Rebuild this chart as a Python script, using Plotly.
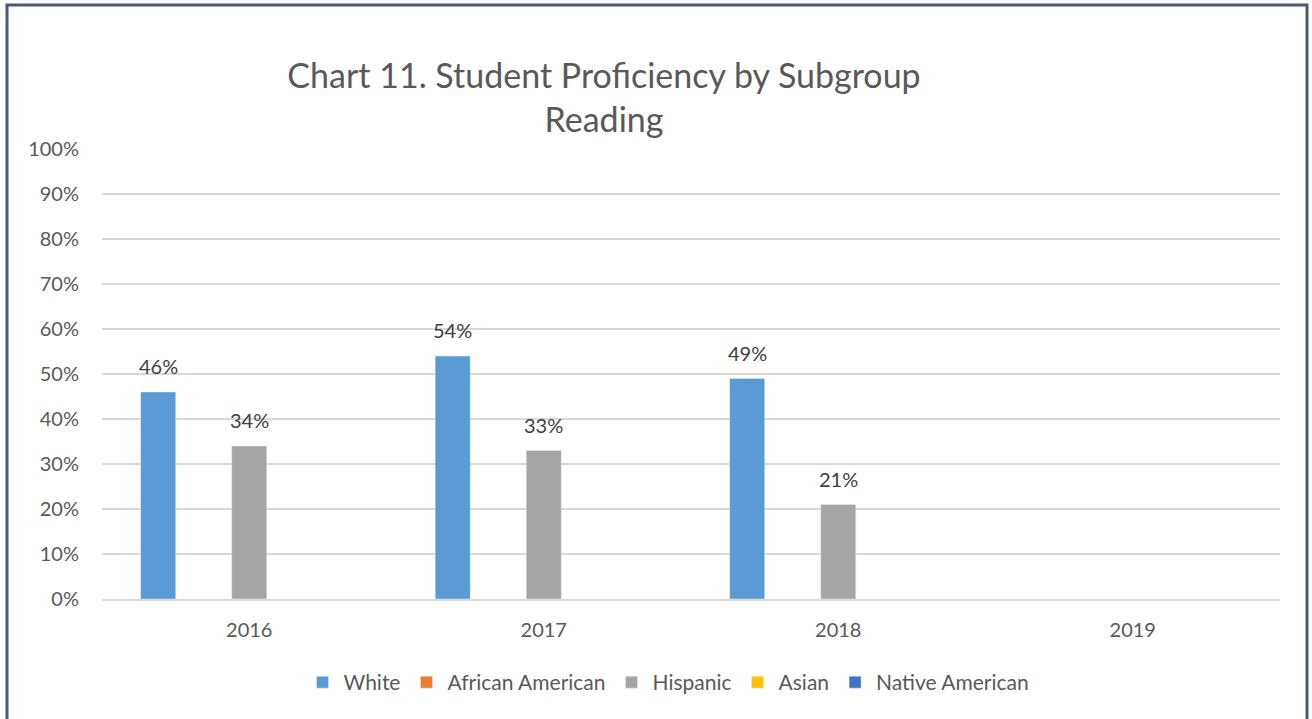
import plotly.graph_objects as go

years = ["2016", "2017", "2018", "2019"]
series_names = ["White", "African American", "Hispanic", "Asian", "Native American"]
white = [0.46, 0.54, 0.49, None]
african_american = [None, None, None, None]
hispanic = [0.34, 0.33, 0.21, None]
asian = [None, None, None, None]
native_american = [None, None, None, None]
colors = ["#5b9bd5", "#ed7d31", "#a5a5a5", "#ffc000", "#4472c4"]

FONT = "Lato"
W, H = 1312, 719
L, R, T, B = 102, 32, 149, 120
PW, PH = W - L - R, H - T - B
BARGAP = 0.227

fig = go.Figure()
all_vals = [white, african_american, hispanic, asian, native_american]
for name, vals, col in zip(series_names, all_vals, colors):
    fig.add_trace(go.Bar(x=years, y=vals, name=name, marker_color=col))

slot = PW / len(years) * (1 - BARGAP) / len(series_names)
for i, vals in enumerate(all_vals):
    for k, v in enumerate(vals):
        if v is None:
            continue
        fig.add_annotation(x=k, y=v, xref="x", yref="y", text=f"{v*100:.0f}%",
                           showarrow=False, xshift=(i - 2) * slot, yshift=26,
                           font=dict(family=FONT, size=20, color="#404040"))

fig.update_layout(
    width=W, height=H,
    paper_bgcolor="white", plot_bgcolor="white",
    margin=dict(l=L, r=R, t=T, b=B),
    barmode="group", bargap=BARGAP, bargroupgap=0.23,
    title=dict(text="Chart 11. Student Proficiency by Subgroup<br>Reading",
               x=604 / W, xanchor="center", y=1 - 88 / H, yanchor="top",
               font=dict(family=FONT, size=34, color="#595959")),
    legend=dict(orientation="h", x=(668 - L) / PW, xanchor="center", y=-0.14, yanchor="top",
                font=dict(family=FONT, size=21, color="#595959"),
                itemwidth=32, traceorder="normal"),
    font=dict(family=FONT, color="#595959"),
)
fig.update_yaxes(range=[0, 1], dtick=0.1, tickformat=".0%", showgrid=True,
                 gridcolor="#d9d9d9", gridwidth=1.5, zeroline=False,
                 tickfont=dict(family=FONT, size=20, color="#595959"),
                 ticks="", ticklabelstandoff=22, showline=False)
fig.update_xaxes(type="category", range=[-0.5, len(years) - 0.5],
                 showline=True, linecolor="#d9d9d9", linewidth=1.5,
                 tickfont=dict(family=FONT, size=20, color="#595959"),
                 ticks="", ticklabelstandoff=12)

fig.add_shape(type="rect", xref="paper", yref="paper",
              x0=(7 - L) / PW, x1=(1307 - L) / PW,
              y0=(599 - 740) / PH, y1=(599 - 5) / PH,
              line=dict(color="#4a5a73", width=3), layer="above")

fig.write_html("out.html", config={"displayModeBar": False},
               post_script="document.body.style.margin='0';document.body.style.overflow='hidden';")
